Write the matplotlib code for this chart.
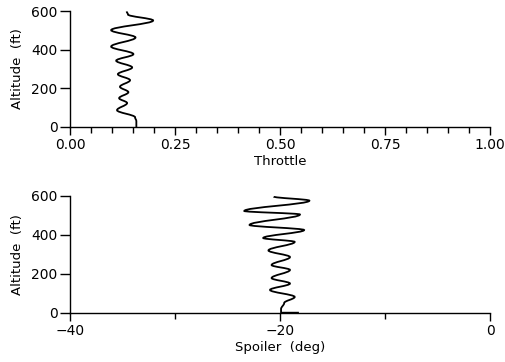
import matplotlib
matplotlib.use("Agg")
import matplotlib.pyplot as plt
from matplotlib.path import Path
from matplotlib.patches import PathPatch

# throttle trace (turning points of the wiggle)
throttle = [0.135, 0.138, 0.198, 0.098, 0.156, 0.098, 0.151, 0.110, 0.148,
            0.114, 0.143, 0.119, 0.139, 0.117, 0.136, 0.112, 0.155, 0.158, 0.158]
throttle_alt = [598, 582, 551, 501, 463, 416, 377, 343, 308,
                273, 242, 208, 180, 149, 124, 87, 50, 30, 0]

# spoiler trace
spoiler = [-20.6, -17.2, -23.4, -18.1, -22.9, -17.7, -21.6, -18.6, -21.1,
           -19.05, -20.8, -19.05, -20.8, -19.05, -20.95, -18.6, -19.6, -19.9, -19.9, -18.2]
spoiler_alt = [597, 576, 523, 505, 451, 425, 384, 364, 320,
               286, 245, 220, 178, 150, 117, 81, 50, 19, 0, 0]

alt_ticks = [0, 200, 400, 600]
throttle_ticks = [0.0, 0.25, 0.5, 0.75, 1.0]
throttle_labels = ["0.00", "0.25", "0.50", "0.75", "1.00"]
throttle_minor = [0.05, 0.1, 0.15, 0.2, 0.3, 0.35, 0.4, 0.45, 0.55, 0.6, 0.65,
                  0.7, 0.8, 0.85, 0.9, 0.95]
spoiler_ticks = [-40, -20, 0]
spoiler_labels = ["\u221240", "\u221220", "0"]
spoiler_minor = [-30, -10]


def wavy(ax, xs, ys):
    # smooth curve through the turning points (vertical tangent at each one)
    verts = [(xs[0], ys[0])]
    codes = [Path.MOVETO]
    for i in range(1, len(xs)):
        dy = (ys[i] - ys[i - 1]) * 0.36
        verts += [(xs[i - 1], ys[i - 1] + dy), (xs[i], ys[i] - dy), (xs[i], ys[i])]
        codes += [Path.CURVE4] * 3
    ax.add_patch(PathPatch(Path(verts, codes), fill=False, lw=1.3, ec="black"))


def style(ax):
    for s in ["top", "right"]:
        ax.spines[s].set_visible(False)
    for s in ["left", "bottom"]:
        ax.spines[s].set_linewidth(1.0)
    ax.set_ylim(0, 600)
    ax.set_yticks(alt_ticks)
    ax.tick_params(axis="y", direction="out", length=7, width=1, labelsize=10, pad=2)
    ax.tick_params(axis="x", which="major", direction="out", length=5.5, width=1,
                   labelsize=10, pad=2.5)
    ax.tick_params(axis="x", which="minor", direction="out", length=4, width=1)
    ax.set_ylabel("Altitude  (ft)", fontsize=9.5, labelpad=5)


fig = plt.figure(figsize=(5.05, 3.62), dpi=100)

ax1 = fig.add_axes([0.1386, 0.6492, 0.8317, 0.3204])
style(ax1)
ax1.set_xlim(0, 1)
ax1.set_xticks(throttle_ticks)
ax1.set_xticklabels(throttle_labels)
ax1.set_xticks(throttle_minor, minor=True)
wavy(ax1, throttle, throttle_alt)
ax1.set_xlabel("Throttle", fontsize=9.5, labelpad=2)

ax2 = fig.add_axes([0.1386, 0.1362, 0.8317, 0.3224])
style(ax2)
ax2.set_xlim(-40, 0)
ax2.set_xticks(spoiler_ticks)
ax2.set_xticklabels(spoiler_labels)
ax2.set_xticks(spoiler_minor, minor=True)
wavy(ax2, spoiler, spoiler_alt)
ax2.set_xlabel("Spoiler  (deg)", fontsize=9.5, labelpad=2)

fig.savefig("out.png", dpi=100)
